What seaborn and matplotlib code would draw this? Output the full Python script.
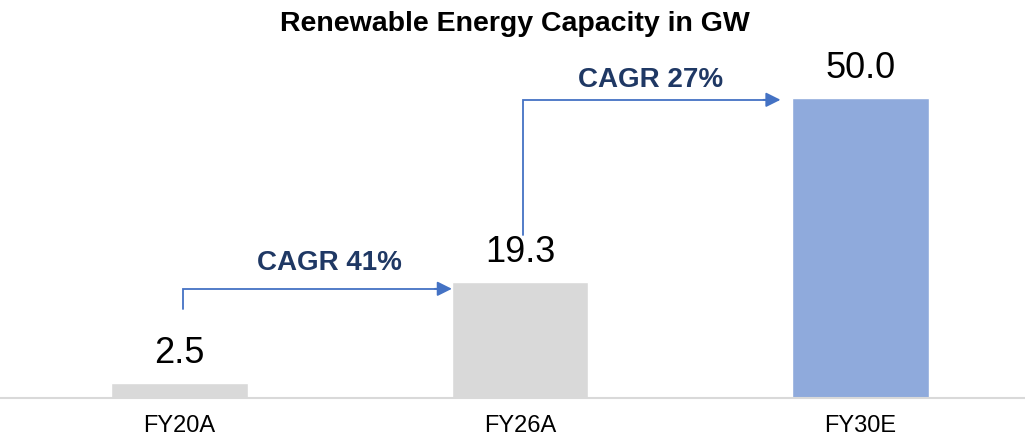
import matplotlib
matplotlib.use('Agg')
import matplotlib.pyplot as plt
import seaborn as sns
import pandas as pd

# data
years = ['FY20A', 'FY26A', 'FY30E']
capacity_gw = [2.5, 19.3, 50.0]
bar_colors = ['#D9D9D9', '#D9D9D9', '#8FAADC']
cagr_labels = ['CAGR 41%', 'CAGR 27%']

sns.set_style('white')
plt.rcParams['font.family'] = ['Liberation Sans', 'DejaVu Sans']

df = pd.DataFrame({'year': years, 'gw': capacity_gw})

fig = plt.figure(figsize=(10.25, 4.4), dpi=100)
ax = fig.add_axes([0, 42 / 440, 1, 360 / 440])

sns.barplot(data=df, x='year', y='gw', hue='year', palette=bar_colors,
            width=0.4, legend=False, ax=ax, saturation=1)

# value labels above each bar
for container in ax.containers:
    ax.bar_label(container, fmt='%.1f', padding=9, fontsize=26, color='black')

ax.set_xlim(-0.527, 2.483)
ax.set_ylim(0, 60)
ax.set_xlabel('')
ax.set_ylabel('')
ax.set_yticks([])
ax.tick_params(axis='x', length=0, pad=12, labelsize=17, labelcolor='black')

sns.despine(ax=ax, left=True)
ax.spines['bottom'].set_color('#D9D9D9')
ax.spines['bottom'].set_linewidth(1.5)

# CAGR elbow arrows
arrow_color = '#4472C4'
text_color = '#1F3864'
arrows = [
    # (x start, y start, y level, x end)
    (0.01, 14.8, 18.2, 0.80),
    (1.01, 27.2, 49.7, 1.765),
]
text_pos = [(0.439, 22.5), (1.382, 53.0)]

for (x0, y0, y1, x1), label, (tx, ty) in zip(arrows, cagr_labels, text_pos):
    ax.plot([x0, x0, x1 - 0.04], [y0, y1, y1], color=arrow_color, lw=1.3,
            solid_joinstyle='miter')
    ax.annotate('', xy=(x1, y1), xytext=(x1 - 0.05, y1),
                arrowprops=dict(arrowstyle='-|>', color=arrow_color, lw=1.3,
                                mutation_scale=22, shrinkA=0, shrinkB=0))
    ax.text(tx, ty, label, ha='center', va='center', fontsize=20,
            fontweight='bold', color=text_color)

fig.text(0.502, 1 - 24 / 440, 'Renewable Energy Capacity in GW', ha='center',
         va='center', fontsize=20.5, fontweight='bold', color='black')

fig.savefig('out.png', dpi=100)
